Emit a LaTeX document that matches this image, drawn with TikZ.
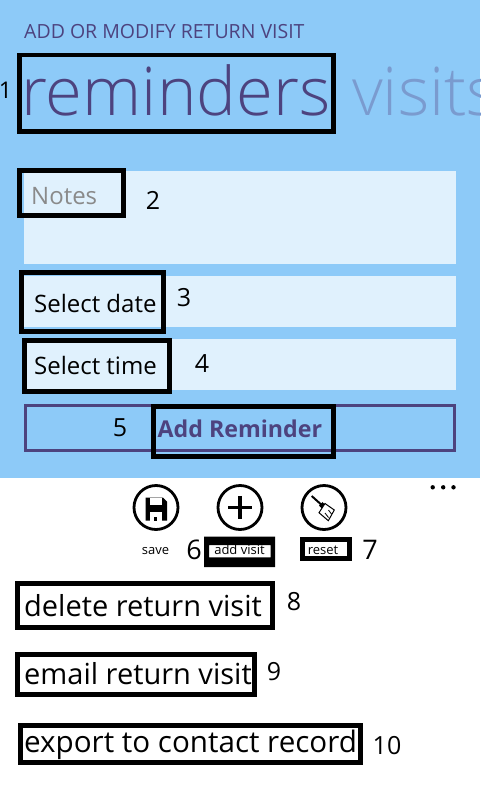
\documentclass[tikz,border=0pt]{standalone}
\usepackage{fontspec}
\setmainfont{Open Sans}
\newfontfamily\lightfont{Open Sans Light}
\usepackage{tikz}
\definecolor{panelblue}{HTML}{8DCAF8}
\definecolor{fieldblue}{HTML}{E0F1FD}
\definecolor{titlepurple}{HTML}{4D437F}
\definecolor{fadedpurple}{HTML}{7A9BCF}
\definecolor{hintgrey}{HTML}{8A8A8A}
\tikzset{
	callout/.style={draw=black,line width=4.7pt,inner sep=0pt},
	numlabel/.style={font=\fontsize{25}{25}\selectfont,inner sep=0pt},
	menulabel/.style={font=\fontsize{29}{30}\selectfont,inner sep=0pt,anchor=base west},
	fieldlabel/.style={font=\fontsize{24}{24}\selectfont,inner sep=0pt,anchor=base west},
	barlabel/.style={font=\fontsize{13}{13}\selectfont,inner sep=0pt,anchor=base},
	iconring/.style={shape=circle,draw=black,line width=2.8pt,minimum size=44pt,inner sep=0pt},
	field/.style={fill=fieldblue,draw=none}
}
\begin{document}
\begin{tikzpicture}[x=1pt,y=-1pt]
	
	\useasboundingbox (0,0) rectangle (480,800);
	\fill[white] (0,0) rectangle (480,800);
	\fill[panelblue] (0,0) rectangle (480,478);
	
	% form fields
	\fill[field] (24,171) rectangle (456,264);
	\fill[field] (24,276) rectangle (456,327);
	\fill[field] (24,339) rectangle (456,390);
	\draw[titlepurple,line width=3pt] (25.5,405.5) rectangle (454.5,450.5);
	
	% texts
	\node[inner sep=0pt,anchor=base west,text=titlepurple,font=\fontsize{19.5}{20}\selectfont] (title) at (24,39) {ADD OR MODIFY RETURN VISIT};
	\node[inner sep=0pt,anchor=base west,text=titlepurple,font=\lightfont\fontsize{67}{67}\selectfont] (reminders) at (21,115) {reminders};
	\begin{scope}
		\clip (0,0) rectangle (480,478);
		\node[inner sep=0pt,anchor=base west,text=fadedpurple,font=\lightfont\fontsize{67}{67}\selectfont] (visits) at (352,115) {visits};
	\end{scope}
	\node[fieldlabel,text=hintgrey] (notes) at (31,204) {Notes};
	\node[fieldlabel] (date) at (34,312) {Select date};
	\node[fieldlabel] (time) at (34,374.5) {Select time};
	\node[fieldlabel,text=titlepurple,font=\bfseries\fontsize{23.2}{24}\selectfont] (add) at (157.5,437) {Add Reminder};
	
	% app bar
	\node[iconring] (save) at (156,507.5) {};
	\node[iconring] (plus) at (240,507.5) {};
	\node[iconring] (broom) at (324,507.5) {};
	\fill[black] (145.5,497.5) -- (163,497.5) -- (167,501.5) -- (167,520.5) -- (145.5,520.5) -- cycle;
	\fill[white] (150,497.5) rectangle (162,505);
	\fill[white] (150,512) rectangle (162,520.5);
	\fill[black] (153.5,516.5) rectangle (156.5,520.5);
	\draw[line width=3.5pt] (plus.center) ++(0,-11.7) -- ++(0,23.4);
	\draw[line width=3.5pt] (plus.center) ++(-11.7,0) -- ++(23.4,0);
	\draw[line width=2pt] (311.7,496) -- (321.7,505);
	\fill[black] (319,505.5) -- (322.5,502) -- (326.5,506) -- (323,509.5) -- cycle;
	\draw[line width=1pt,fill=white] (325,503.5) -- (334.3,510) -- (328.3,520.7) -- (319,512.7) -- cycle;
	\draw[line width=.8pt] (325,513) -- (328.5,517.5);
	\draw[line width=.8pt] (328.5,510) -- (331.5,514);
	\fill (432.7,487.3) circle (2.2pt) (443.2,487.3) circle (2.2pt) (453.5,487.3) circle (2.2pt);
	\node[barlabel] (savetext) at (155.5,554) {save};
	\node[barlabel] (addvisit) at (239.5,554) {add visit};
	\node[barlabel] (reset) at (323,554) {reset};
	
	% menu
	\node[menulabel] (delete) at (24,616) {delete return visit};
	\node[menulabel] (email) at (24,684.5) {email return visit};
	\node[menulabel,font=\fontsize{29.6}{30}\selectfont] (export) at (24,752) {export to contact record};
	
	% callouts
	\node[callout,minimum width=314pt,minimum height=76.7pt] (box1) at (176.3,93.4) {};
	\node[callout,minimum width=104.4pt,minimum height=45.4pt] (box2) at (71.5,193) {};
	\node[callout,minimum width=142.4pt,minimum height=59.4pt] (box3) at (92.5,302) {};
	\node[callout,minimum width=145.3pt,minimum height=51.6pt] (box4) at (97,366) {};
	\node[callout,minimum width=180pt,minimum height=50.3pt] (box5) at (243.3,431.5) {};
	\fill[black,even odd rule] (204,536.7) rectangle (275,567) (209,545) rectangle (270.7,557.3);
	\node[callout,line width=5pt,minimum width=46.7pt,minimum height=19.3pt] (box7) at (326.2,548.8) {};
	\node[callout,minimum width=255.4pt,minimum height=44.4pt] (box8) at (145,605.5) {};
	\node[callout,minimum width=236.7pt,minimum height=40.3pt] (box9) at (135.8,674.5) {};
	\node[callout,minimum width=340.3pt,minimum height=37pt] (box10) at (190.5,744.2) {};
	
	% numbers
	\node[numlabel,font=\fontsize{23}{23}\selectfont] (n1) at (5.5,90) {1};
	\node[numlabel] (n2) at (153,200) {2};
	\node[numlabel] (n3) at (184,298) {3};
	\node[numlabel] (n4) at (202,364) {4};
	\node[numlabel] (n5) at (120,428) {5};
	\node[numlabel,font=\fontsize{27}{27}\selectfont] (n6) at (194,550) {6};
	\node[numlabel,font=\fontsize{27}{27}\selectfont] (n7) at (370,550) {7};
	\node[numlabel] (n8) at (294,602) {8};
	\node[numlabel] (n9) at (274,672) {9};
	\node[numlabel] (n10) at (387,746) {10};
	
\end{tikzpicture}
\end{document}
